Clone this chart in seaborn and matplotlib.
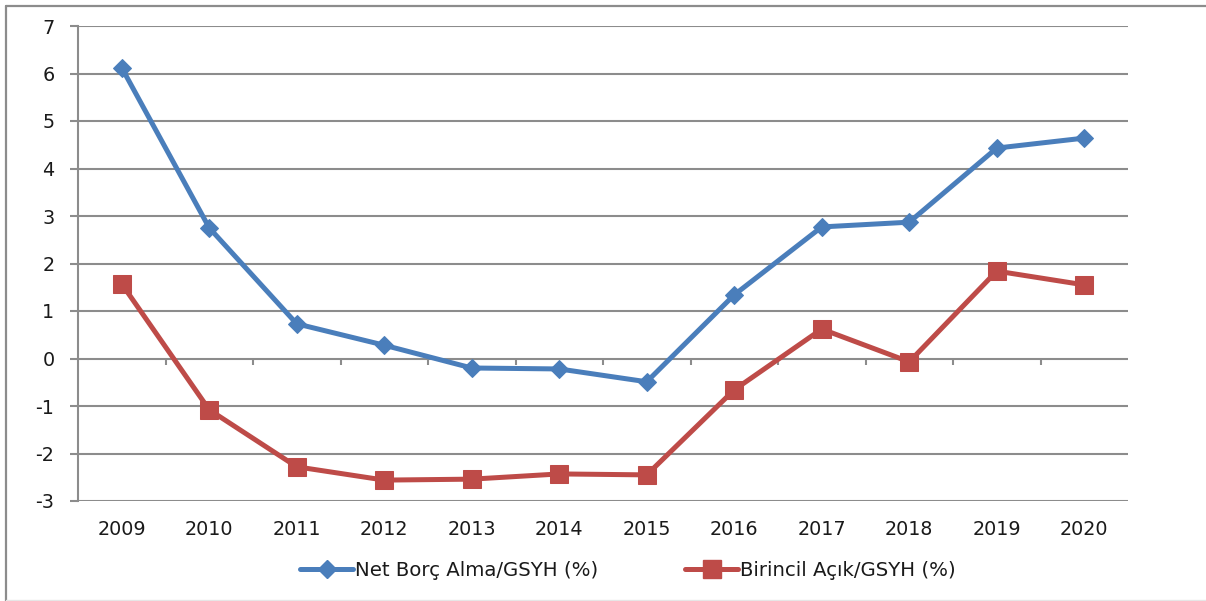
import matplotlib
matplotlib.use("Agg")
import matplotlib.pyplot as plt
import seaborn as sns
import pandas as pd
import numpy as np
from matplotlib.lines import Line2D

years = ["2009", "2010", "2011", "2012", "2013", "2014", "2015", "2016", "2017", "2018", "2019", "2020"]
net_borc = [6.12, 2.75, 0.73, 0.28, -0.20, -0.22, -0.49, 1.34, 2.77, 2.87, 4.43, 4.64]
birincil = [1.57, -1.08, -2.28, -2.56, -2.54, -2.43, -2.45, -0.66, 0.62, -0.07, 1.84, 1.55]
series_names = ["Net Borç Alma/GSYH (%)", "Birincil Açık/GSYH (%)"]
yticks = [-3, -2, -1, 0, 1, 2, 3, 4, 5, 6, 7]

sns.set_style("white")
plt.rcParams['font.family'] = ['DejaVu Sans']

blue = "#4A7EBB"
red = "#BE4B48"
grid = "#8C8C8C"
txt = "#1a1a1a"

fig = plt.figure(figsize=(12.06, 6.01), dpi=100)
ax = fig.add_axes([78/1206, 1-501/601, 1050/1206, 475/601])

x = np.arange(len(years))
df1 = pd.DataFrame({"x": x, "y": net_borc})
df2 = pd.DataFrame({"x": x, "y": birincil})

for yv in yticks:
    ax.axhline(yv, color=grid, lw=1.5, zorder=1)

sns.lineplot(data=df1, x="x", y="y", ax=ax, color=blue, lw=3.6, marker="D",
             markersize=9.5, markeredgecolor=blue, zorder=3)
sns.lineplot(data=df2, x="x", y="y", ax=ax, color=red, lw=3.6, marker="s",
             markersize=13, markeredgecolor=red, zorder=3)

# tick marks on the zero line at category boundaries
bounds = np.arange(len(years) + 1) - 0.5
ax.vlines(bounds[1:-1], -0.13, 0, color=grid, lw=1.5, zorder=1)

ax.set_xlim(-0.5, len(years) - 0.5)
ax.set_ylim(-3, 7)
ax.set_yticks(yticks)
ax.set_yticklabels([str(v) for v in yticks], fontsize=13.8, color=txt)
ax.set_xticks(x)
ax.set_xticklabels(years, fontsize=13.8, color=txt)
ax.tick_params(axis="x", length=0, pad=14)
ax.tick_params(axis="y", length=6, width=1.5, color=grid, direction="out", pad=11, left=True)
ax.set_xlabel("")
ax.set_ylabel("")
for s in ["top", "right", "bottom"]:
    ax.spines[s].set_visible(False)
ax.spines["left"].set_color(grid)
ax.spines["left"].set_linewidth(1.5)

handles = [
    Line2D([0], [0], color=blue, lw=3.6, marker="D", markersize=9.5, markeredgecolor=blue),
    Line2D([0], [0], color=red, lw=3.6, marker="s", markersize=13, markeredgecolor=red),
]
fig.legend(handles, series_names, loc="center", bbox_to_anchor=(628/1206, 1-570/601),
           ncol=2, frameon=False, fontsize=14.2, handlelength=2.7, handletextpad=0.1,
           columnspacing=4.4, labelcolor=txt)

# outer chart border
fig.add_artist(Line2D([6/1206, 6/1206], [1-6/601, 0.0], transform=fig.transFigure, color="#8C8C8C", lw=1.6))
fig.add_artist(Line2D([6/1206, 1.0], [1-6/601, 1-6/601], transform=fig.transFigure, color="#8C8C8C", lw=1.6))
fig.add_artist(Line2D([6/1206, 1.0], [1-599.5/601, 1-599.5/601], transform=fig.transFigure, color="#E6E6E6", lw=1.0))

fig.savefig("out.png", dpi=100)
